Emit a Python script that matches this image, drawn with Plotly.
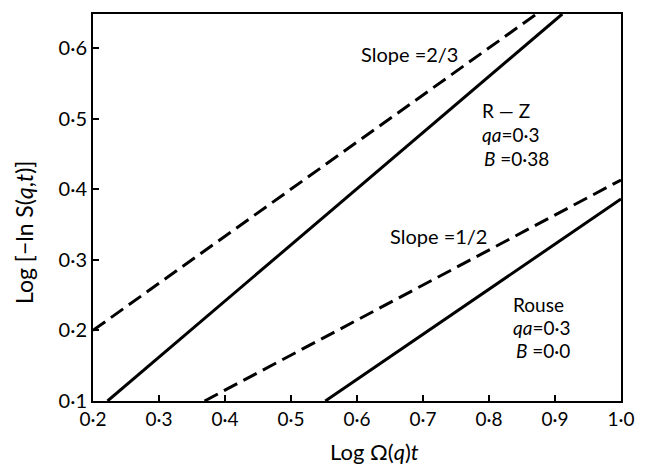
import plotly.graph_objects as go

# Tick positions and labels
x_ticks = [0.2, 0.3, 0.4, 0.5, 0.6, 0.7, 0.8, 0.9, 1.0]
x_tick_text = ["0·2", "0·3", "0·4", "0·5", "0·6", "0·7", "0·8", "0·9", "1·0"]
y_ticks = [0.1, 0.2, 0.3, 0.4, 0.5, 0.6]
y_tick_text = ["0·1", "0·2", "0·3", "0·4", "0·5", "0·6"]

# Reference line of slope 2/3
slope23_x = [0.2, 0.875]
slope23_y = [0.2, 0.65]
# R–Z curve (qa = 0.3, B = 0.38)
rz_x = [0.222, 0.911]
rz_y = [0.1, 0.648]
# Reference line of slope 1/2
slope12_x = [0.369, 1.0]
slope12_y = [0.1, 0.413]
# Rouse curve (qa = 0.3, B = 0.0)
rouse_x = [0.552, 1.0]
rouse_y = [0.1, 0.386]

FONT = "Lato"
LW = 3

fig = go.Figure()
dashed = dict(color="black", width=LW, dash="15px,7px")
solid = dict(color="black", width=LW)
fig.add_trace(go.Scatter(x=slope23_x, y=slope23_y, mode="lines", line=dashed))
fig.add_trace(go.Scatter(x=rz_x, y=rz_y, mode="lines", line=solid))
fig.add_trace(go.Scatter(x=slope12_x, y=slope12_y, mode="lines", line=dashed))
fig.add_trace(go.Scatter(x=rouse_x, y=rouse_y, mode="lines", line=solid))

axis_common = dict(
    showgrid=False, zeroline=False, showline=True, linecolor="black", linewidth=2,
    mirror=True, ticks="inside", ticklen=6, tickwidth=1.5, tickcolor="black",
)
fig.update_xaxes(range=[0.2, 1.0], tickmode="array", tickvals=x_ticks,
                 ticktext=x_tick_text,
                 tickfont=dict(family=FONT, size=19, color="black"), **axis_common)
fig.update_yaxes(range=[0.1, 0.648], tickmode="array", tickvals=y_ticks,
                 ticktext=y_tick_text,
                 tickfont=dict(family=FONT, size=20, color="black"), **axis_common)

txt = dict(family=FONT, size=20, color="black")
small = dict(family=FONT, size=19, color="black")
notes = [
    (0.680, 0.592, "Slope =2/3", "center", txt),
    (0.786, 0.512, "R — Z", "left", small),
    (0.786, 0.478, "<i>qa</i>=0·3", "left", small),
    (0.789, 0.444, "<i>B</i> =0·38", "left", small),
    (0.724, 0.334, "Slope =1/2", "center", txt),
    (0.8326, 0.237, "Rouse", "left", small),
    (0.8326, 0.204, "<i>qa</i>=0·3", "left", small),
    (0.8376, 0.171, "<i>B</i> =0·0", "left", small),
]
for x, y, t, anchor, f in notes:
    fig.add_annotation(x=x, y=y, text=t, showarrow=False, xanchor=anchor,
                       yanchor="middle", font=f)

# Axis titles
fig.add_annotation(x=0.627, y=-0.13, xref="x", yref="paper", text="Log Ω(<i>q</i>)<i>t</i>",
                   showarrow=False, xanchor="center", yanchor="middle",
                   font=dict(family=FONT, size=22, color="black"))
fig.add_annotation(x=-0.132, y=0.435, xref="paper", yref="paper",
                   text="Log [−ln S(<i>q</i>,<i>t</i>)]", textangle=-90,
                   showarrow=False, xanchor="center", yanchor="middle",
                   font=dict(family=FONT, size=23, color="black"))

fig.update_layout(
    width=646, height=465, showlegend=False,
    margin=dict(l=93, r=14, t=13, b=64),
    plot_bgcolor="white", paper_bgcolor="white",
)

fig.write_html("out.html")
